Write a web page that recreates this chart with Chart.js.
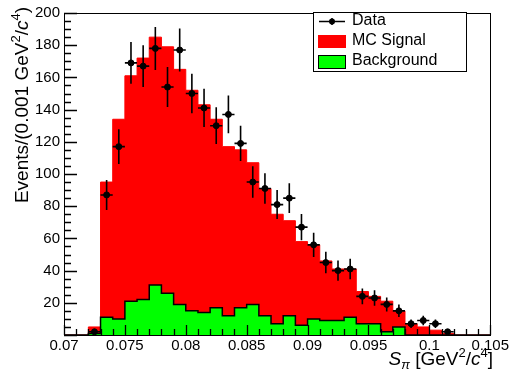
<!DOCTYPE html>
<html>
<head>
<meta charset="utf-8">
<script src="https://cdn.jsdelivr.net/npm/chart.js@4/dist/chart.umd.min.js"></script>
<style>
  html, body { margin: 0; padding: 0; background: #fff; }
  canvas { display: block; }
</style>
</head>
<body>
<canvas id="myChart1" width="511" height="374"></canvas>
<script>

// bin edges, 0.001 GeV^2/c^4 wide
let binEdges = [0.070, 0.071, 0.072, 0.073, 0.074, 0.075, 0.076, 0.077, 0.078, 0.079,
                0.080, 0.081, 0.082, 0.083, 0.084, 0.085, 0.086, 0.087, 0.088, 0.089,
                0.090, 0.091, 0.092, 0.093, 0.094, 0.095, 0.096, 0.097, 0.098, 0.099,
                0.100, 0.101, 0.102, 0.103, 0.104, 0.105];

// MC signal (stacked on background) per bin
let mcSignal = [0, 0, 5, 95, 134, 161, 172, 185, 179, 165, 152, 143, 134, 117, 115, 107, 91, 75,
                71, 58, 56, 46, 41, 41, 27, 24, 21, 15, 7, 5, 3, 1, 0, 0, 0];

let background = [0, 0, 1, 11, 10, 21, 22, 31, 26, 19, 15, 14, 17, 12, 17, 19, 12, 7,
                  12, 6, 10, 9, 9, 11, 7, 7, 2, 5, 0, 0, 0, 0, 0, 0, 0];

// data counts, null = empty bin
let dataCounts = [null, null, 2, 87, 117, 169, 167, 178, 154, 177, 150, 141, 130, 137, 119, 95, 91, 81,
                  85, 67, 56, 45, 40, 41, 24, 23, 19, 15, 7, 9, 7, 2, null, null, null];

let xTicks = [0.07, 0.075, 0.08, 0.085, 0.09, 0.095, 0.1, 0.105];
let yTicks = [20, 40, 60, 80, 100, 120, 140, 160, 180, 200];

const FONT = "'Liberation Sans', Arial, Helvetica, sans-serif";

function histPoints(vals) {
  let pts = binEdges.slice(0, vals.length).map((e, i) => ({x: e, y: vals[i]}));
  pts.push({x: binEdges[vals.length], y: vals[vals.length - 1]});
  return pts;
}

let dataPts = [];
dataCounts.forEach((n, i) => {
  if (n !== null) dataPts.push({x: (binEdges[i] + binEdges[i + 1]) / 2, y: n});
});

// ticks inside the frame, error bars, legend and axis titles
let rootStyle = {
  id: 'rootStyle',
  afterDatasetsDraw(chart) {
    let ctx = chart.ctx;
    let xs = chart.scales.x, ys = chart.scales.y;
    let a = chart.chartArea;

    // error bars
    ctx.save();
    ctx.strokeStyle = '#000';
    ctx.lineWidth = 1.6;
    dataCounts.forEach((n, i) => {
      if (n === null) return;
      let err = Math.sqrt(n);
      let xc = xs.getPixelForValue((binEdges[i] + binEdges[i + 1]) / 2);
      let yc = ys.getPixelForValue(n);
      ctx.beginPath();
      ctx.moveTo(xc, ys.getPixelForValue(n + err));
      ctx.lineTo(xc, ys.getPixelForValue(Math.max(n - err, 0)));
      ctx.moveTo(xs.getPixelForValue(binEdges[i]), yc);
      ctx.lineTo(xs.getPixelForValue(binEdges[i + 1]), yc);
      ctx.stroke();
    });
    ctx.restore();

    // frame + ticks
    ctx.save();
    ctx.strokeStyle = '#000';
    ctx.lineWidth = 1;
    ctx.strokeRect(Math.round(a.left) + 0.5, Math.round(a.top) + 0.5,
                   Math.round(a.right - a.left), Math.round(a.bottom - a.top));
    ctx.lineWidth = 1.3;
    ctx.beginPath();
    binEdges.forEach((e, i) => {
      let px = Math.round(xs.getPixelForValue(e)) + 0.5;
      let len = (i % 5 === 0) ? 10 : 6;
      ctx.moveTo(px, a.bottom);
      ctx.lineTo(px, a.bottom - len);
    });
    for (let v = 0; v <= 200; v += 5) {
      let py = Math.round(ys.getPixelForValue(v)) + 0.5;
      let len = (v % 20 === 0) ? 13 : 7;
      ctx.moveTo(a.left, py);
      ctx.lineTo(a.left + len, py);
    }
    ctx.stroke();
    ctx.restore();

    // legend
    ctx.save();
    ctx.fillStyle = '#fff';
    ctx.fillRect(313, 12, 153, 59);
    ctx.strokeStyle = '#000';
    ctx.lineWidth = 1;
    ctx.strokeRect(313.5, 12.5, 153, 59);
    ctx.lineWidth = 1.5;
    ctx.beginPath();
    ctx.moveTo(319, 21.5);
    ctx.lineTo(345, 21.5);
    ctx.moveTo(332, 18);
    ctx.lineTo(332, 25);
    ctx.stroke();
    ctx.fillStyle = '#000';
    ctx.beginPath();
    ctx.arc(332, 21.5, 3, 0, Math.PI * 2);
    ctx.fill();
    ctx.fillStyle = '#ff0000';
    ctx.fillRect(318, 35, 28, 13);
    ctx.fillStyle = '#00ff00';
    ctx.fillRect(318, 55, 28, 14);
    ctx.lineWidth = 1;
    ctx.strokeRect(318.5, 55.5, 27, 13);
    ctx.fillStyle = '#000';
    ctx.font = '16px ' + FONT;
    ctx.textBaseline = 'middle';
    ctx.fillText('Data', 352, 21);
    ctx.fillText('MC Signal', 352, 41);
    ctx.fillText('Background', 352, 61);
    ctx.restore();

    // axis titles
    drawRich(ctx, [
      ['S', 'italic 19px'], ['π', 'italic 13px', 4], [' [GeV', '19px'], ['2', '13px', -8],
      ['/', '19px'], ['c', 'italic 19px'], ['4', '13px', -8], [']', '19px']
    ], 493, 365, 0);
    drawRich(ctx, [
      ['Events/(0.001 GeV', '19px'], ['2', '13px', -8], ['/', '19px'],
      ['c', 'italic 19px'], ['4', '13px', -8], [')', '19px']
    ], 28, 7, -Math.PI / 2);
  }
};

// pieces drawn so the string ends at (x, y)
function drawRich(ctx, parts, x, y, rot) {
  ctx.save();
  ctx.fillStyle = '#000';
  ctx.textBaseline = 'alphabetic';
  let total = 0;
  parts.forEach(p => { ctx.font = p[1] + ' ' + FONT; total += ctx.measureText(p[0]).width; });
  ctx.translate(x, y);
  ctx.rotate(rot);
  let cx = -total;
  parts.forEach(p => {
    ctx.font = p[1] + ' ' + FONT;
    ctx.fillText(p[0], cx, p[2] || 0);
    cx += ctx.measureText(p[0]).width;
  });
  ctx.restore();
}

let chart1 = new Chart(document.getElementById('myChart1').getContext('2d'), {
  type: 'line',
  data: {
    datasets: [
      {
        label: 'Data',
        type: 'scatter',
        data: dataPts,
        pointRadius: 3,
        pointBackgroundColor: '#000',
        pointBorderColor: '#000',
        showLine: false,
        order: 0
      },
      {
        label: 'Background',
        data: histPoints(background),
        stepped: 'before',
        fill: 'origin',
        backgroundColor: '#00ff00',
        borderColor: '#000',
        borderWidth: 1.5,
        pointRadius: 0,
        order: 1
      },
      {
        label: 'MC Signal',
        data: histPoints(mcSignal),
        stepped: 'before',
        fill: 'origin',
        backgroundColor: '#ff0000',
        borderColor: '#ff0000',
        borderWidth: 1,
        pointRadius: 0,
        order: 2
      }
    ]
  },
  options: {
    responsive: false,
    animation: false,
    devicePixelRatio: 1,
    layout: { padding: { left: 0, right: 20, top: 12, bottom: 0 } },
    plugins: { legend: { display: false }, tooltip: { enabled: false } },
    scales: {
      x: {
        type: 'linear',
        min: 0.07,
        max: 0.105,
        grid: { display: false, drawTicks: false },
        border: { display: false },
        afterBuildTicks: s => { s.ticks = xTicks.map(v => ({value: v})); },
        afterFit: s => { s.height = 39; },
        ticks: {
          autoSkip: false,
          maxRotation: 0,
          padding: 2,
          color: '#000',
          font: { family: FONT, size: 15 },
          callback: v => String(+v.toFixed(3))
        }
      },
      y: {
        min: 0,
        max: 200,
        grid: { display: false, drawTicks: false },
        border: { display: false },
        afterBuildTicks: s => { s.ticks = yTicks.map(v => ({value: v})); },
        afterFit: s => { s.width = 64; },
        ticks: {
          padding: 4,
          color: '#000',
          font: { family: FONT, size: 15 },
          callback: v => String(v)
        }
      }
    }
  },
  plugins: [rootStyle]
});

</script>
</body>
</html>
